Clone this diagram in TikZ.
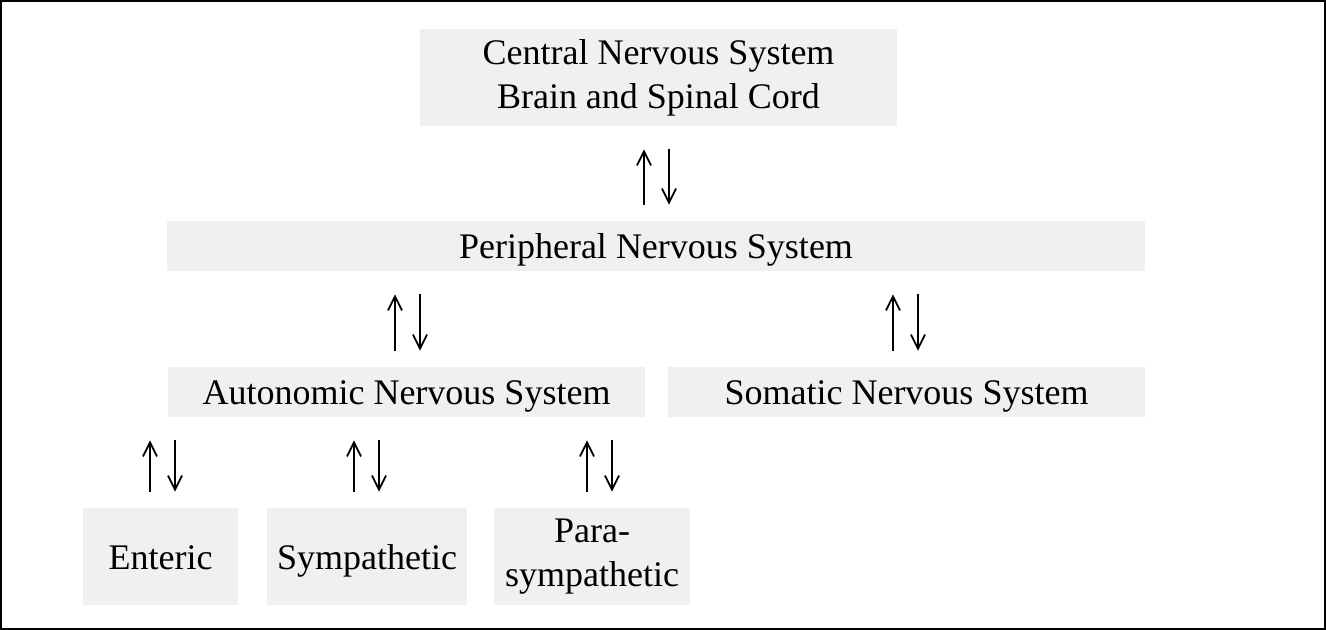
\documentclass[tikz,border=0pt]{standalone}
\usepackage{fontspec}
\setmainfont{Liberation Serif}
\usepackage{tikz}
\usetikzlibrary{calc,positioning,arrows.meta}

\definecolor{boxgray}{RGB}{240,240,242}

\tikzset{
  sysbox/.style={fill=boxgray, inner sep=0pt, align=center,
    font=\fontsize{18}{22}\selectfont},
  onerow/.style={sysbox, text height=14.5pt, text depth=2pt},
  uparr/.style={line width=0.9pt, -{Straight Barb[length=7pt,width=7pt]}}
}

\begin{document}
\begin{tikzpicture}[x=0.5pt,y=-0.5pt]

  \useasboundingbox (0,0) rectangle (1326,630);
  \draw[line width=1pt] (1,1) rectangle (1325,629);

  \node[sysbox, minimum width=238.5pt, minimum height=48.5pt] (cns) at (658.5,77.5)
    {Central Nervous System\\Brain and Spinal Cord};
  \node[onerow, minimum width=489pt, minimum height=25pt] (pns) at (656,246)
    {Peripheral Nervous System};
  \node[onerow, minimum width=238.5pt, minimum height=25pt] (ans) at (406.5,392)
    {Autonomic Nervous System};
  \node[onerow, minimum width=238.5pt, minimum height=25pt] (sns) at (906.5,392)
    {Somatic Nervous System};
  \node[onerow, minimum width=77.5pt, minimum height=48.5pt] (ent) at (160.5,556.5)
    {Enteric};
  \node[onerow, minimum width=100pt, minimum height=48.5pt] (sym) at (367,556.5)
    {Sympathetic};
  \node[sysbox, minimum width=98pt, minimum height=48.5pt] (para) at (592,556.5)
    {Para-\\sympathetic};

  % up and down pairs between levels
  \foreach \lo/\hi/\xu in {pns/cns/644, ans/pns/395, sns/pns/893,
      ent/ans/150, sym/ans/354, para/ans/587}{
    \pgfmathsetmacro{\xd}{\xu+25}
    \draw[uparr, shorten <=8pt, shorten >=11.5pt] (\lo.north -| \xu,0) -- (\hi.south -| \xu,0);
    \draw[uparr, shorten <=11.5pt, shorten >=8pt] (\hi.south -| \xd,0) -- (\lo.north -| \xd,0);
  }

\end{tikzpicture}
\end{document}
